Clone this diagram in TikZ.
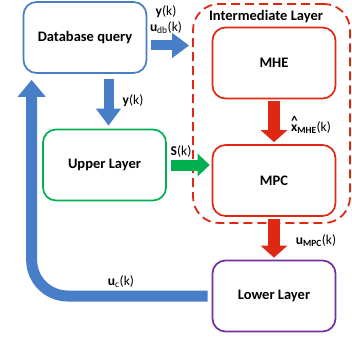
\documentclass[tikz,border=0pt]{standalone}
\usepackage{fontspec}
\setmainfont{Carlito}
\usepackage{xcolor}
\usetikzlibrary{positioning,arrows.meta,calc}

\definecolor{dbblue}{RGB}{72,126,200}
\definecolor{upgreen}{RGB}{0,176,80}
\definecolor{mpcred}{RGB}{222,40,20}
\definecolor{lowpurple}{RGB}{112,48,160}

\newcommand{\hatx}{\leavevmode\rlap{\raisebox{5.5pt}{\textbf{\char94}}}\textbf{x}}

\begin{document}
\begin{tikzpicture}[
  x=1pt, y=-1pt,
  box/.style={rectangle, draw, rounded corners=13pt, line width=1.7pt,
              minimum width=123pt, minimum height=71pt, align=center,
              font=\fontsize{14.5}{17}\selectfont\bfseries, fill=white},
  bluearrow/.style={draw=dbblue, line width=10pt,
              -{Triangle[width=24pt,length=17pt]}},
  greenarrow/.style={draw=upgreen, line width=11pt,
              -{Triangle[width=22pt,length=12pt]}},
  redarrow/.style={draw=mpcred, line width=12pt,
              -{Triangle[width=26pt,length=12pt]}},
  lbl/.style={font=\fontsize{13.5}{15}\selectfont, inner sep=1pt}
]
\useasboundingbox (0,0) rectangle (352,339);

% Intermediate layer (dashed frame)
\node[draw=mpcred, dashed, dash pattern=on 9pt off 5pt, line width=1.8pt,
      rounded corners=26pt, minimum width=157pt, minimum height=219pt]
      (inter) at (271.5,113.5) {};
\node[font=\fontsize{14.5}{17}\selectfont\bfseries] (intertitle) at (266,17) {Intermediate Layer};

% Boxes
\node[box, draw=dbblue] (db) at (85,37.5) {Database query};
\node[box, draw=upgreen] (upper) at (104.5,165) {Upper Layer};
\node[box, draw=mpcred] (mhe) at (274,63) {MHE};
\node[box, draw=mpcred] (mpc) at (274,180.5) {MPC};
\node[box, draw=lowpurple] (lower) at (274,296) {Lower Layer};

% Arrows
\draw[bluearrow] ([xshift=4pt,yshift=-8pt]db.east) -- ([xshift=-3pt,yshift=-8pt]inter.west |- db.east);
\draw[bluearrow] ([xshift=4pt,yshift=-5pt]db.south -| upper.north) -- ([xshift=4pt,yshift=3pt]upper.north);
\draw[greenarrow] ([xshift=4pt]upper.east) -- ([xshift=-2pt]mpc.west |- upper.east);
\draw[redarrow] ([yshift=-2pt]mhe.south) -- ([yshift=2pt]mpc.north);
\draw[redarrow] ([yshift=-2pt]mpc.south) -- ([yshift=2pt]lower.north);
\draw[draw=dbblue, line width=11pt, rounded corners=36pt,
      -{Triangle[width=27pt,length=17pt]}]
  ([xshift=-4pt]lower.west) -| ([xshift=9pt,yshift=-6pt]db.south west);

% Labels
\node[lbl] (lbly1) at (166,12) {\textbf{y}(k)};
\node[lbl] (lbludb) at (166,28) {\textbf{u}\textsubscript{db}(k)};
\node[lbl] (lbly2) at (133,101) {\textbf{y}(k)};
\node[lbl] (lbls) at (181,151) {\textbf{S}(k)};
\node[lbl] (lblx) at (311,125) {\hatx\textsubscript{\textbf{MHE}}(k)};
\node[lbl] (lblu) at (316,241) {\textbf{u}\textsubscript{\textbf{MPC}}(k)};
\node[lbl] (lbluc) at (121,282) {\textbf{u}\textsubscript{c}(k)};

\end{tikzpicture}
\end{document}
